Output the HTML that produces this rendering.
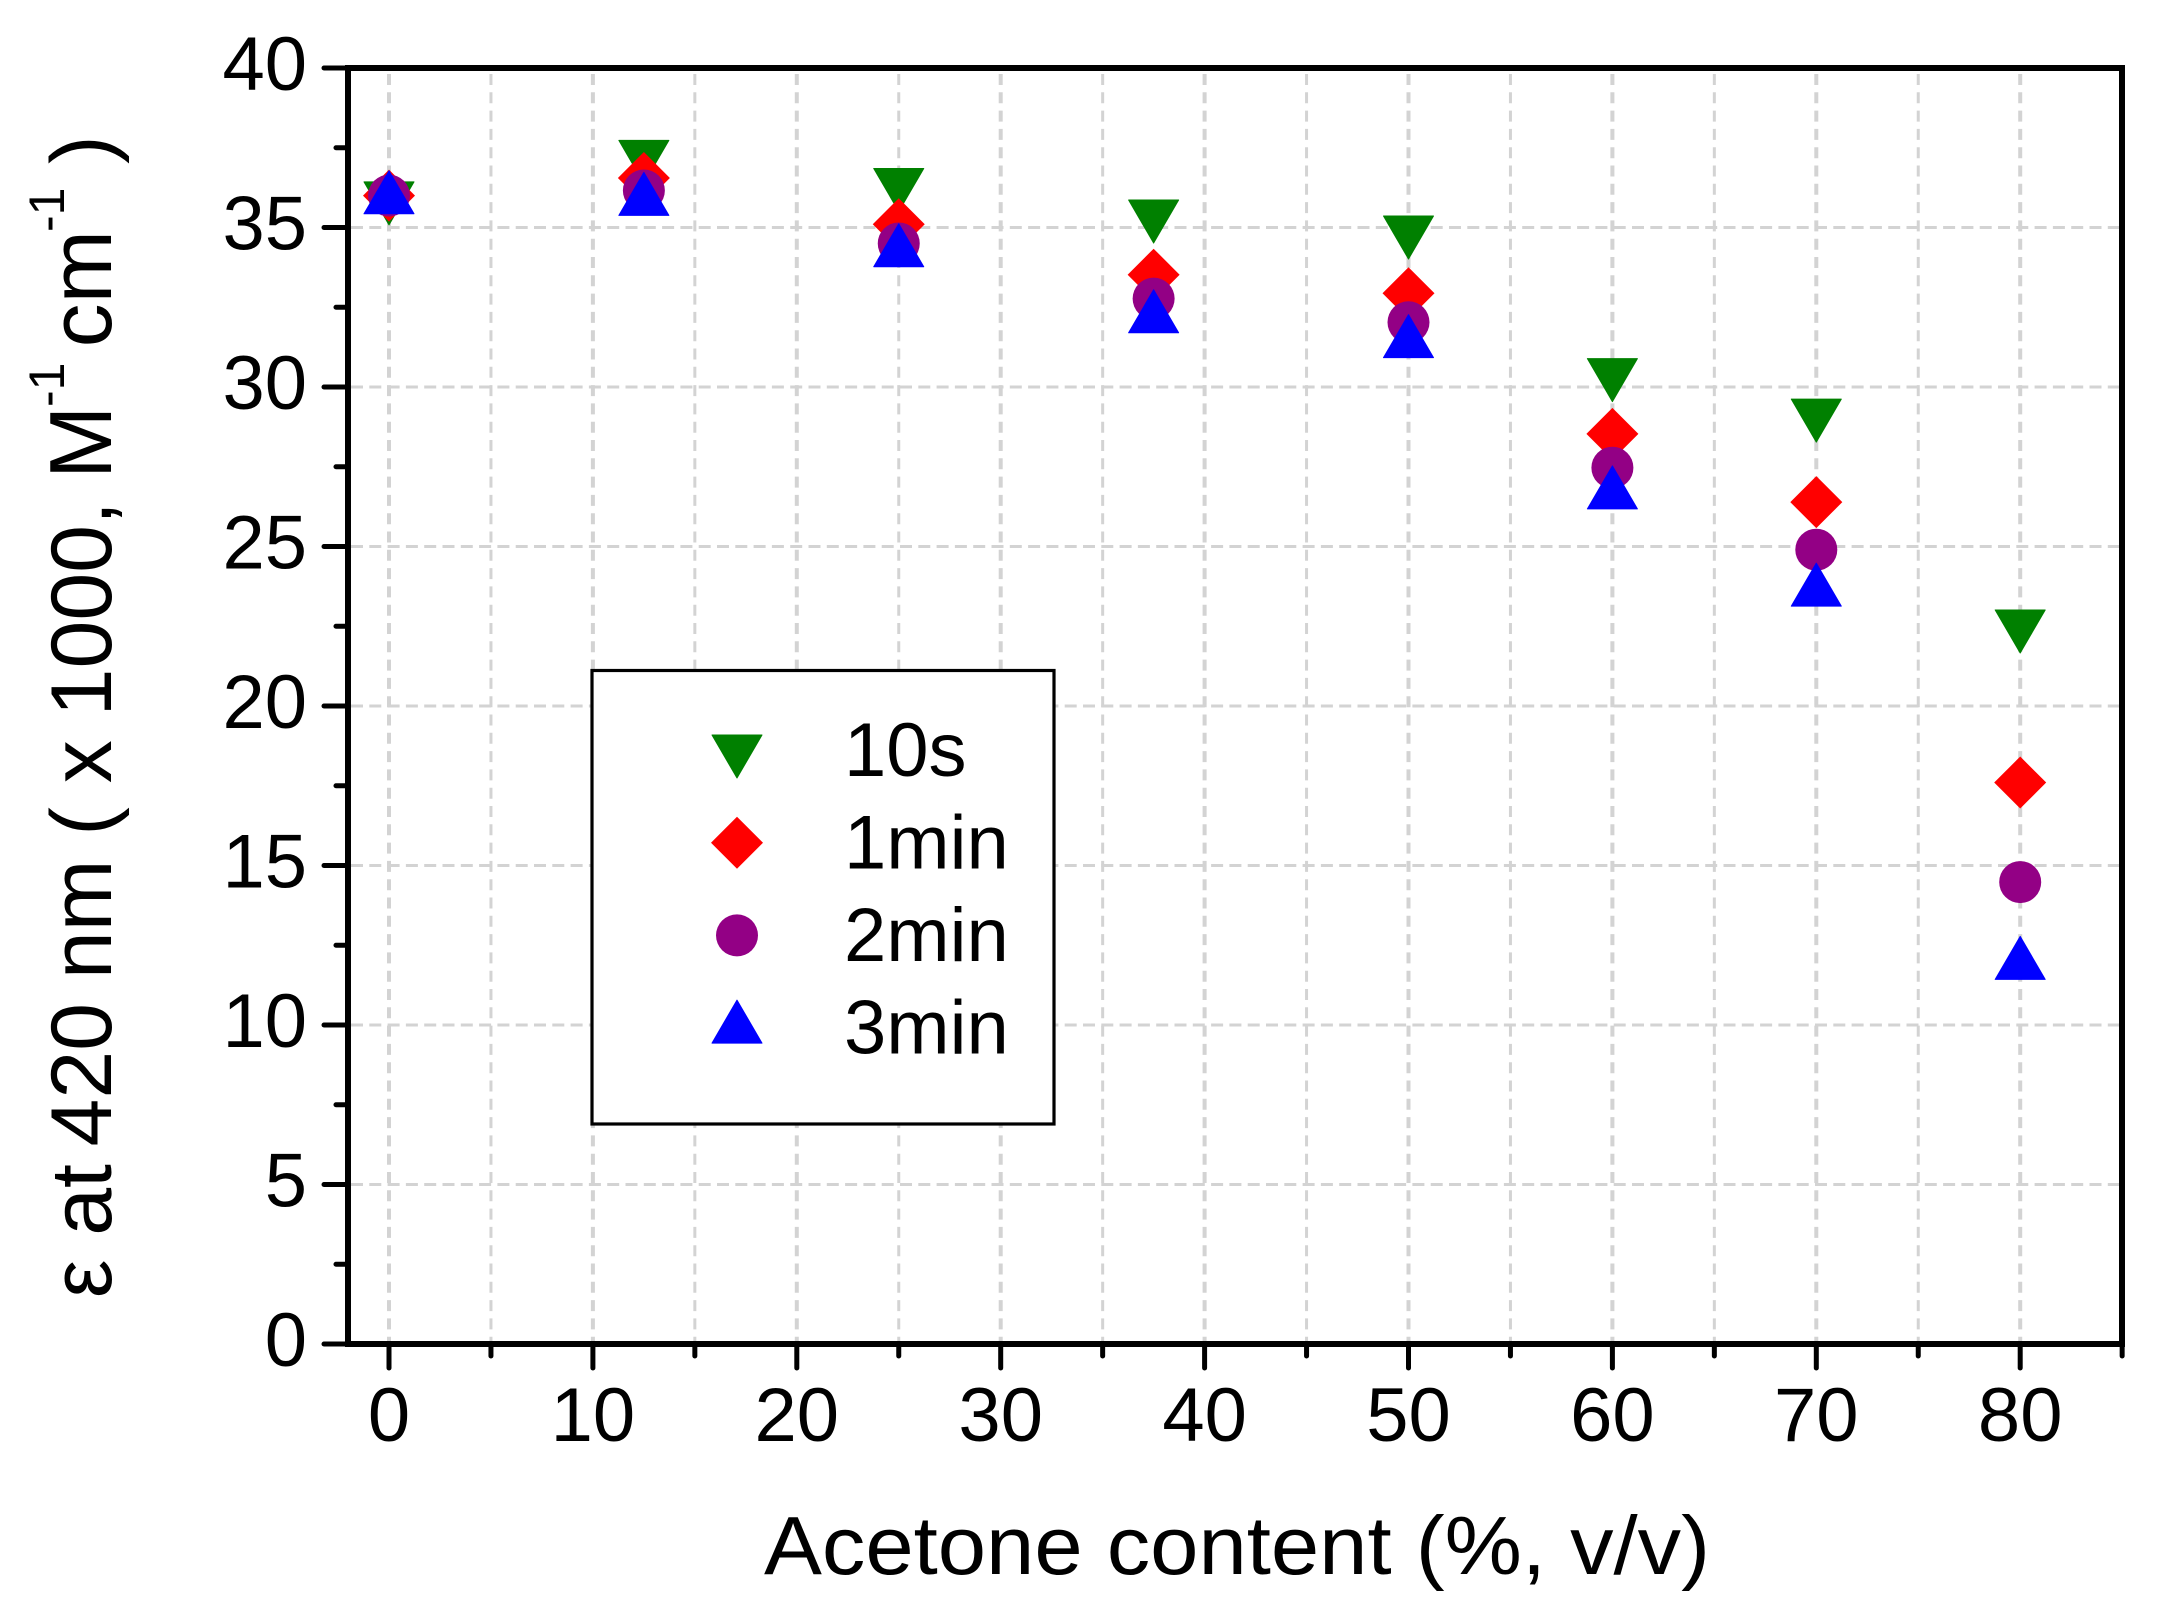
<!DOCTYPE html>
<html lang="en">
<head>
<meta charset="utf-8">
<title>Molar absorptivity vs acetone content</title>
<style>
html,body{margin:0;padding:0;background:#fff;}
svg{display:block;}
text{font-family:"Liberation Sans",Arial,sans-serif;fill:#000;}
</style>
</head>
<body>
<svg id="chart" xmlns="http://www.w3.org/2000/svg" width="2158" height="1621" viewBox="0 0 2158 1621">
  <rect x="0" y="0" width="2158" height="1621" fill="#ffffff"/>
  <g id="grid"></g>
  <g id="marks"></g>
  <g id="axes"></g>
  <g id="legend"></g>
  <text x="764" y="1574" font-size="83" textLength="946" lengthAdjust="spacingAndGlyphs">Acetone content (%, v/v)</text>
  <text transform="translate(111,1298) rotate(-90)" font-size="86" xml:space="preserve">ε at <tspan x="151.5">420 nm ( x 1000,</tspan><tspan x="819" font-size="88">M</tspan><tspan x="891" font-size="50" dy="-47">-1</tspan><tspan x="950.6" dy="47" font-size="88">cm</tspan><tspan x="1066" font-size="50" dy="-47">-1</tspan><tspan x="1134" dy="47">)</tspan></text>
</svg>
<script>
const xCategories = [0, 12.5, 25, 37.5, 50, 60, 70, 80];
const series10s = [35.96, 37.26, 36.38, 35.39, 34.89, 30.42, 29.15, 22.54];
const series1min = [36.0, 36.55, 35.1, 33.52, 32.94, 28.53, 26.39, 17.6];
const series2min = [36.0, 36.16, 34.5, 32.77, 32.03, 27.47, 24.9, 14.48];
const series3min = [35.9, 35.85, 34.24, 32.17, 31.39, 26.65, 23.6, 11.9];
const xTickLabels = [0, 10, 20, 30, 40, 50, 60, 70, 80];
const xMinorTicks = [5, 15, 25, 35, 45, 55, 65, 75, 85];
const yTickLabels = [0, 5, 10, 15, 20, 25, 30, 35, 40];
const yMinorTicks = [2.5, 7.5, 12.5, 17.5, 22.5, 27.5, 32.5, 37.5];
const legendLabels = ['10s', '1min', '2min', '3min'];

const NS = 'http://www.w3.org/2000/svg';
const xScale = v => 389 + v * 20.39;
const yScale = v => 1344 - v * 31.9;
const PLOT = {left: 348, right: 2122, top: 68, bottom: 1344};
const gridG = document.getElementById('grid');
const marksG = document.getElementById('marks');
const axesG = document.getElementById('axes');
const legendG = document.getElementById('legend');

function make(tag, attrs, parent) {
  const el = document.createElementNS(NS, tag);
  for (const k in attrs) el.setAttribute(k, attrs[k]);
  parent.appendChild(el);
  return el;
}

function downTriangle(cx, cy) {
  return `${cx - 25},${cy - 15} ${cx + 25},${cy - 15} ${cx},${cy + 28}`;
}
function upTriangle(cx, cy) {
  return `${cx - 25},${cy + 15} ${cx + 25},${cy + 15} ${cx},${cy - 28}`;
}
function diamond(cx, cy) {
  return `${cx - 26},${cy} ${cx},${cy - 26} ${cx + 26},${cy} ${cx},${cy + 26}`;
}

function drawDown(cx, cy, parent) {
  const el = make('polygon', {points: downTriangle(cx, cy), fill: '#008000', stroke: '#008000', 'stroke-width': 1, 'stroke-linejoin': 'round'}, parent);
  return el;
}
function drawDiamond(cx, cy, parent) {
  const el = make('polygon', {points: diamond(cx, cy), fill: '#ff0000'}, parent);
  return el;
}
function drawCircle(cx, cy, parent) {
  const el = make('circle', {cx: cx, cy: cy, r: 21, fill: '#930085'}, parent);
  return el;
}
function drawUp(cx, cy, parent) {
  const el = make('polygon', {points: upTriangle(cx, cy), fill: '#0000ff', stroke: '#0000ff', 'stroke-width': 1, 'stroke-linejoin': 'round'}, parent);
  return el;
}

/* grid */
xTickLabels.concat(xMinorTicks.slice(0, -1)).forEach(v => {
  const major = v % 10 === 0;
  const g = make('line', {x1: xScale(v), x2: xScale(v), y1: PLOT.top + 6, y2: PLOT.bottom - 3, stroke: '#d3d3d3', 'stroke-width': major ? 4 : 3, 'stroke-dasharray': '11 7.3'}, gridG);
  
  
});
yTickLabels.slice(1, -1).forEach(v => {
  const g = make('line', {x1: PLOT.left + 3, x2: PLOT.right - 3, y1: yScale(v), y2: yScale(v), stroke: '#d3d3d3', 'stroke-width': 3, 'stroke-dasharray': '12 6.3'}, gridG);
  
  
});

/* data marks */
xCategories.forEach((x, i) => {
  const m1 = drawDown(xScale(x), yScale(series10s[i]), marksG);
  
  
});
xCategories.forEach((x, i) => {
  const m2 = drawDiamond(xScale(x), yScale(series1min[i]), marksG);
  
  
});
xCategories.forEach((x, i) => {
  const m3 = drawCircle(xScale(x), yScale(series2min[i]), marksG);
  
  
});
xCategories.forEach((x, i) => {
  const m4 = drawUp(xScale(x), yScale(series3min[i]), marksG);
  
  
});

/* axes frame */
const frame = make('rect', {x: PLOT.left, y: PLOT.top, width: PLOT.right - PLOT.left, height: PLOT.bottom - PLOT.top, fill: 'none', stroke: '#000', 'stroke-width': 6}, axesG);



/* ticks */
xTickLabels.forEach(v => {
  const t = make('line', {x1: xScale(v), x2: xScale(v), y1: PLOT.bottom, y2: 1368, stroke: '#000', 'stroke-width': 5, 'stroke-linecap': 'round'}, axesG);
  
  
  const l = make('text', {x: xScale(v), y: 1441, 'font-size': 76, 'text-anchor': 'middle'}, axesG);
  l.textContent = v;
  
  
});
xMinorTicks.forEach(v => {
  const t = make('line', {x1: xScale(v), x2: xScale(v), y1: PLOT.bottom, y2: 1356, stroke: '#000', 'stroke-width': 5, 'stroke-linecap': 'round'}, axesG);
  
  
});
yTickLabels.forEach(v => {
  const t = make('line', {x1: 324, x2: PLOT.left, y1: yScale(v), y2: yScale(v), stroke: '#000', 'stroke-width': 5, 'stroke-linecap': 'round'}, axesG);
  
  
  const l = make('text', {x: 307, y: yScale(v) + 22, 'font-size': 76, 'text-anchor': 'end'}, axesG);
  l.textContent = v;
  
  
});
yMinorTicks.forEach(v => {
  const t = make('line', {x1: 336, x2: PLOT.left, y1: yScale(v), y2: yScale(v), stroke: '#000', 'stroke-width': 5, 'stroke-linecap': 'round'}, axesG);
  
  
});

/* legend */
const legendBox = make('rect', {x: 592, y: 670.5, width: 462, height: 453.5, fill: '#fff', stroke: '#000', 'stroke-width': 3.2}, legendG);


const legendDrawers = [drawDown, drawDiamond, drawCircle, drawUp];
legendLabels.forEach((label, i) => {
  const cy = 750 + i * 92.7;
  const sym = legendDrawers[i](737, cy, legendG);
  
  
  const t = make('text', {x: 844, y: 776 + i * 92.5, 'font-size': 76}, legendG);
  t.textContent = label;
  
  
});
</script>
</body>
</html>
